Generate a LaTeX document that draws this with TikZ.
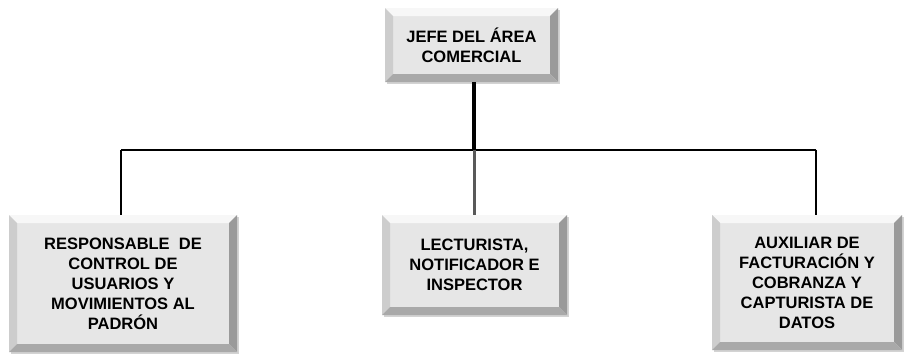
\documentclass[tikz,border=0pt]{standalone}
\usepackage{fontspec}
\setmainfont{Liberation Sans}
\usetikzlibrary{shadows}
\definecolor{boxfill}{HTML}{E6E6E6}
\definecolor{bevellight}{HTML}{F7F7F7}
\definecolor{bevelside}{HTML}{CDCDCD}
\definecolor{beveldark}{HTML}{9A9A9A}
\begin{document}
\begin{tikzpicture}[
        x=1pt, y=-1pt,
        box/.style={fill=boxfill, inner sep=0pt, align=center,
            font=\fontsize{16.5}{20}\selectfont\bfseries,
            drop shadow={opacity=0.35, shadow xshift=2pt, shadow yshift=-2pt},
            path picture={
                \fill[bevellight] (path picture bounding box.north west) -- (path picture bounding box.north east)
                    -- ([shift={(-8pt,-8pt)}]path picture bounding box.north east) -- ([shift={(8pt,-8pt)}]path picture bounding box.north west) -- cycle;
                \fill[bevelside] (path picture bounding box.north west) -- ([shift={(8pt,-8pt)}]path picture bounding box.north west)
                    -- ([shift={(8pt,8pt)}]path picture bounding box.south west) -- (path picture bounding box.south west) -- cycle;
                \fill[beveldark] (path picture bounding box.north east) -- ([shift={(-8pt,-8pt)}]path picture bounding box.north east)
                    -- ([shift={(-8pt,8pt)}]path picture bounding box.south east) -- (path picture bounding box.south east) -- cycle;
                \fill[beveldark!85] (path picture bounding box.south west) -- ([shift={(8pt,8pt)}]path picture bounding box.south west)
                    -- ([shift={(-8pt,8pt)}]path picture bounding box.south east) -- (path picture bounding box.south east) -- cycle;
            }},
        link/.style={draw, line width=2pt}
    ]
        \useasboundingbox (0,0) rectangle (906,354);
        \node[box, minimum width=173pt, minimum height=74pt] (jefe) at (471.5,45) {JEFE DEL ÁREA\\COMERCIAL};
        \node[box, minimum width=228pt, minimum height=137pt] (resp) at (123,283.5) {RESPONSABLE\ \ DE\\CONTROL DE\\USUARIOS Y\\MOVIMIENTOS AL\\PADRÓN};
        \node[box, minimum width=185pt, minimum height=100pt] (lect) at (474.5,265) {LECTURISTA,\\NOTIFICADOR E\\INSPECTOR};
        \node[box, minimum width=190pt, minimum height=135pt] (aux) at (807,282.5) {AUXILIAR DE\\FACTURACIÓN Y\\COBRANZA Y\\CAPTURISTA DE\\DATOS};
        \coordinate (busl) at (121,149.5);
        \coordinate (busm) at (474,149.5);
        \coordinate (busr) at (816,149.5);
        \draw[link] (busl) -- (busr);
        \draw[link, line width=3.5pt] (jefe.south -| busm) -- (busm);
        \draw[link, line width=3pt, black!65] (busm) -- (busm |- lect.north);
        \draw[link] (busl) -- (busl |- resp.north);
        \draw[link] (busr) -- (busr |- aux.north);
\end{tikzpicture}
\end{document}
